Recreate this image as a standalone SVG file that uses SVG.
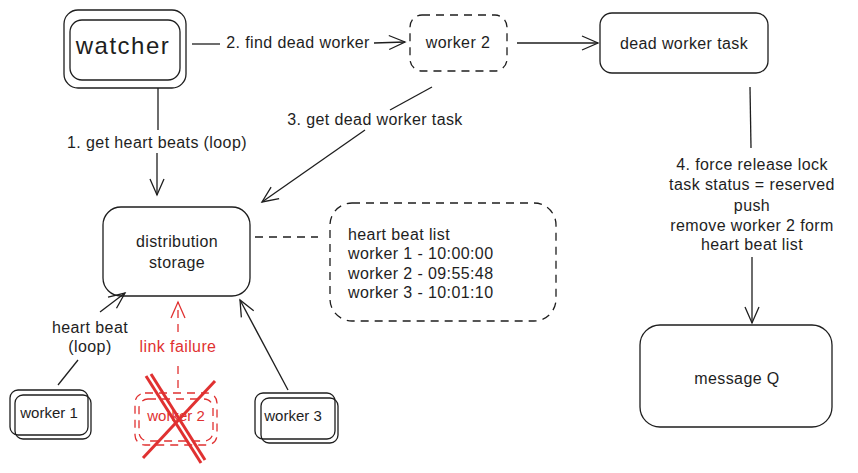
<svg xmlns="http://www.w3.org/2000/svg" width="858" height="473" viewBox="0 0 858 473">
<style>
.b{fill:none;stroke:#1e1e1e;stroke-width:1.3}
.d{stroke-dasharray:8 6}
.r{fill:none;stroke:#e03131;stroke-width:1.3}
.rx{fill:none;stroke:#e03131;stroke-width:3}
.t{font-family:"Liberation Sans",Arial,sans-serif;font-size:16px;letter-spacing:0.4px;fill:#1e1e1e;text-anchor:middle;dominant-baseline:central}
.s{font-size:15px;letter-spacing:0}
.tl{text-anchor:start}
.tr{fill:#e03131}
.ln{fill:none;stroke:#1e1e1e;stroke-width:1.3}
</style>
<defs>
<marker id="ah" markerWidth="20" markerHeight="20" refX="18" refY="10" orient="auto" markerUnits="userSpaceOnUse">
<path d="M2,3 L18,10 L2,17" fill="none" stroke="#1e1e1e" stroke-width="1.3"/>
</marker>
<marker id="ahr" markerWidth="20" markerHeight="20" refX="18" refY="10" orient="auto" markerUnits="userSpaceOnUse">
<path d="M2,3 L18,10 L2,17" fill="none" stroke="#e03131" stroke-width="1.3"/>
</marker>
</defs>
<rect width="858" height="473" fill="#ffffff"/>
<g id="connectors">
<line class="ln" x1="192" y1="44" x2="220" y2="44" stroke-width="2"/>
<line class="ln" x1="374" y1="43" x2="405" y2="42" marker-end="url(#ah)"/>
<line class="ln" x1="517" y1="43" x2="598" y2="43" marker-end="url(#ah)"/>
<line class="ln" x1="158" y1="88" x2="158" y2="130"/>
<line class="ln" x1="157" y1="153" x2="157" y2="195" marker-end="url(#ah)"/>
<line class="ln" x1="432" y1="87" x2="390" y2="110"/>
<line class="ln" x1="365" y1="130" x2="262" y2="202" marker-end="url(#ah)"/>
<line class="ln" x1="750" y1="87" x2="751" y2="148"/>
<line class="ln" x1="752" y1="257" x2="752" y2="323" marker-end="url(#ah)"/>
<line class="ln d" x1="255" y1="237" x2="318" y2="237"/>
<line class="ln" x1="58" y1="385" x2="78" y2="360"/>
<line class="ln" x1="100" y1="312" x2="125" y2="293" marker-end="url(#ah)"/>
<line class="r d" x1="178" y1="388" x2="178" y2="360"/>
<line class="r d" x1="178" y1="332" x2="178" y2="302" marker-end="url(#ahr)"/>
<line class="ln" x1="288" y1="390" x2="240" y2="300" marker-end="url(#ah)"/>
</g>
<g id="watcher">
<rect class="b" x="64" y="10" width="122" height="78" rx="14"/>
<rect class="b" x="70" y="20" width="110" height="60" rx="12"/>
<text class="t" x="123" y="45" style="font-size:24px;letter-spacing:1.5px">watcher</text>
</g>
<g id="label-find"><text class="t" x="298" y="42">2. find dead worker</text></g>
<g id="worker2-top">
<rect class="b d" x="410" y="15" width="97" height="56" rx="12"/>
<text class="t" x="458" y="42">worker 2</text>
</g>
<g id="dead-worker-task">
<rect class="b" x="600" y="13" width="168" height="60" rx="12"/>
<text class="t" x="684" y="43">dead worker task</text>
</g>
<g id="label-get-heart"><text class="t" x="157" y="142">1. get heart beats (loop)</text></g>
<g id="label-get-dead"><text class="t" x="375" y="119">3. get dead worker task</text></g>
<g id="label-force">
<text class="t" x="752" y="164">4. force release lock</text>
<text class="t" x="752" y="184">task status = reserved</text>
<text class="t" x="752" y="205">push</text>
<text class="t" x="752" y="225">remove worker 2 form</text>
<text class="t" x="752" y="244">heart beat list</text>
</g>
<g id="message-q">
<rect class="b" x="640" y="325" width="192" height="102" rx="20"/>
<text class="t" x="737" y="378">message Q</text>
</g>
<g id="distribution-storage">
<rect class="b" x="103" y="207" width="147" height="89" rx="18"/>
<text class="t" x="177" y="241">distribution</text>
<text class="t" x="177" y="262">storage</text>
</g>
<g id="heart-beat-list">
<rect class="b d" x="330" y="203" width="226" height="118" rx="22"/>
<text class="t tl" x="348" y="234">heart beat list</text>
<text class="t tl" x="348" y="253">worker 1 - 10:00:00</text>
<text class="t tl" x="348" y="273">worker 2 - 09:55:48</text>
<text class="t tl" x="348" y="292">worker 3 - 10:01:10</text>
</g>
<g id="label-heart-beat">
<text class="t" x="90" y="327">heart beat</text>
<text class="t" x="90" y="346">(loop)</text>
</g>
<g id="worker1">
<rect class="b" x="10" y="390" width="78" height="45" rx="8"/>
<rect class="b" x="15" y="395" width="76" height="44" rx="8"/>
<text class="t s" x="49" y="412">worker 1</text>
</g>
<g id="label-link-failure"><text class="t tr" x="178" y="346">link failure</text></g>
<g id="worker2-dead">
<rect class="r d" x="135" y="393" width="82" height="52" rx="10"/>
<rect class="r d" x="139" y="399" width="74" height="42" rx="9"/>
<text class="t s tr" x="176" y="415">worker 2</text>
<line class="rx" x1="151" y1="374" x2="205" y2="460"/>
<line class="rx" x1="146" y1="376" x2="201" y2="463"/>
<line class="rx" x1="215" y1="381" x2="143" y2="458"/>
</g>
<g id="worker3">
<rect class="b" x="255" y="393" width="80" height="46" rx="8"/>
<rect class="b" x="261" y="398" width="77" height="45" rx="8"/>
<text class="t s" x="293" y="415">worker 3</text>
</g>
</svg>
